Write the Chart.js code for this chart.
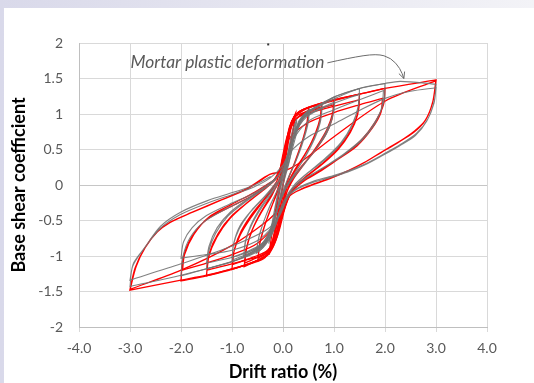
<!DOCTYPE html>
<html>
<head>
<meta charset="utf-8">
<script src="https://cdn.jsdelivr.net/npm/chart.js@4.4.1/dist/chart.umd.min.js"></script>
<style>
  html, body { margin: 0; padding: 0; }
  body { width: 534px; height: 383px; overflow: hidden; position: relative;
         background: linear-gradient(to right, #d9d9ea, #f3f3f7); }
  #panel { position: absolute; left: 4px; top: 8px; width: 530px; height: 375px; background: #fff; }
</style>
</head>
<body>
<div id="panel"><canvas id="chart" width="530" height="375"></canvas></div>
<script>
const xMin = -4, xMax = 4, xStep = 1;
const yMin = -2, yMax = 2, yStep = 0.5;
const xTitle = 'Drift ratio (%)';
const yTitle = 'Base shear coefficient';
const noteText = 'Mortar plastic deformation';

// gray specimen, one array per drift amplitude: [drift %, base shear coeff]
const grayLoop025 = [[-0.05,0.05],[0.08,0.4],[0.18,0.75],[0.27,0.93],[0.22,0.7],[0.14,0.42],[0.03,0.1],[-0.1,-0.28],[-0.2,-0.6],[-0.28,-0.83],[-0.23,-0.6],[-0.15,-0.32],[-0.04,-0.02],[0.09,0.35],[0.19,0.7],[0.27,0.9],[0.21,0.65],[0.12,0.32],[0.0,0.0],[-0.13,-0.4],[-0.22,-0.68],[-0.28,-0.82],[-0.21,-0.52],[-0.12,-0.18],[0.0,0.15]];
const grayLoop05 = [[0.02,0.15],[0.17,0.55],[0.3,0.86],[0.4,0.98],[0.52,1.07],[0.48,0.86],[0.38,0.6],[0.25,0.34],[0.1,0.1],[-0.05,-0.18],[-0.19,-0.52],[-0.32,-0.8],[-0.42,-0.9],[-0.52,-0.96],[-0.48,-0.76],[-0.38,-0.52],[-0.25,-0.28],[-0.1,-0.06],[0.04,0.15],[0.18,0.5],[0.31,0.82],[0.42,0.95],[0.52,1.03],[0.48,0.83],[0.37,0.56],[0.22,0.28],[0.08,0.06],[-0.06,-0.22],[-0.2,-0.55],[-0.34,-0.82],[-0.52,-0.93],[-0.47,-0.72],[-0.36,-0.48],[-0.22,-0.24],[-0.06,0.0]];
const grayLoop075 = [[0.03,0.2],[0.17,0.6],[0.31,0.9],[0.45,1.02],[0.77,1.15],[0.74,0.94],[0.64,0.7],[0.48,0.46],[0.3,0.24],[0.12,0.04],[-0.05,-0.22],[-0.21,-0.58],[-0.36,-0.82],[-0.54,-0.93],[-0.77,-1.01],[-0.74,-0.8],[-0.64,-0.58],[-0.48,-0.36],[-0.29,-0.16],[-0.08,0.04],[0.07,0.3],[0.21,0.66],[0.36,0.92],[0.54,1.01],[0.77,1.1],[0.73,0.88],[0.62,0.65],[0.44,0.4],[0.24,0.18],[0.06,-0.02],[-0.11,-0.32],[-0.27,-0.66],[-0.45,-0.85],[-0.77,-0.98],[-0.72,-0.76],[-0.6,-0.54],[-0.42,-0.32],[-0.22,-0.12],[-0.04,0.08]];
const grayLoop10 = [[0.03,0.2],[0.18,0.6],[0.34,0.92],[0.55,1.06],[1.02,1.24],[0.99,1.02],[0.88,0.8],[0.69,0.56],[0.45,0.32],[0.2,0.1],[0.0,-0.12],[-0.16,-0.45],[-0.32,-0.76],[-0.55,-0.92],[-1.0,-1.06],[-0.97,-0.84],[-0.86,-0.62],[-0.66,-0.4],[-0.4,-0.2],[-0.14,0.0],[0.05,0.28],[0.2,0.64],[0.38,0.92],[0.65,1.05],[1.01,1.17],[0.97,0.95],[0.85,0.72],[0.62,0.48],[0.37,0.26],[0.14,0.06],[-0.04,-0.2],[-0.2,-0.55],[-0.38,-0.8],[-0.65,-0.92],[-1.0,-1.02],[-0.96,-0.8],[-0.84,-0.57],[-0.62,-0.36],[-0.36,-0.16],[-0.12,0.04]];
const grayLoop15 = [[0.03,0.2],[0.19,0.62],[0.36,0.93],[0.65,1.1],[1.0,1.24],[1.5,1.36],[1.48,1.12],[1.36,0.86],[1.14,0.6],[0.82,0.37],[0.48,0.17],[0.22,0.0],[0.02,-0.22],[-0.16,-0.55],[-0.36,-0.82],[-0.65,-0.96],[-1.0,-1.08],[-1.5,-1.18],[-1.46,-0.94],[-1.32,-0.68],[-1.08,-0.44],[-0.74,-0.24],[-0.38,-0.06],[-0.12,0.1],[0.06,0.36],[0.22,0.7],[0.45,0.95],[0.9,1.12],[1.5,1.28],[1.46,1.05],[1.33,0.8],[1.1,0.55],[0.78,0.33],[0.44,0.14],[0.18,-0.04],[-0.03,-0.3],[-0.2,-0.64],[-0.45,-0.86],[-0.9,-1.0],[-1.5,-1.1],[-1.45,-0.86],[-1.29,-0.6],[-1.03,-0.38],[-0.68,-0.19],[-0.32,-0.02],[-0.08,0.14]];
const grayLoop20 = [[0.03,0.2],[0.19,0.62],[0.38,0.94],[0.75,1.13],[1.0,1.24],[1.5,1.36],[2.0,1.43],[1.98,1.18],[1.84,0.93],[1.58,0.67],[1.2,0.44],[0.8,0.25],[0.42,0.08],[0.16,-0.08],[-0.02,-0.32],[-0.2,-0.66],[-0.42,-0.88],[-0.85,-1.04],[-1.5,-1.18],[-2.0,-1.28],[-1.96,-1.0],[-1.82,-0.74],[-1.55,-0.52],[-1.1,-0.33],[-0.62,-0.16],[-0.24,0.02],[0.02,0.25],[0.17,0.6],[0.5,0.9],[1.0,1.06],[1.5,1.2],[1.97,1.33],[1.94,1.1],[1.8,0.86],[1.52,0.61],[1.14,0.4],[0.74,0.22],[0.36,0.06],[0.12,-0.12],[-0.08,-0.45],[-0.45,-0.76],[-1.0,-0.92],[-1.5,-0.98],[-2.0,-1.03],[-1.95,-0.8],[-1.78,-0.6],[-1.5,-0.43],[-1.05,-0.27],[-0.58,-0.12],[-0.2,0.06]];
const grayLoop30 = [[0.03,0.22],[0.2,0.64],[0.4,0.96],[0.85,1.16],[1.5,1.36],[2.0,1.43],[2.3,1.46],[3.0,1.42],[2.97,1.2],[2.84,0.93],[2.62,0.73],[2.3,0.57],[1.96,0.43],[1.62,0.3],[1.28,0.2],[0.92,0.12],[0.58,0.05],[0.32,-0.03],[0.14,-0.12],[-0.04,-0.36],[-0.22,-0.7],[-0.45,-0.92],[-1.0,-1.08],[-2.0,-1.27],[-3.0,-1.43],[-2.95,-1.15],[-2.75,-0.92],[-2.42,-0.62],[-2.02,-0.42],[-1.5,-0.26],[-0.98,-0.13],[-0.58,-0.03],[-0.25,0.1],[0.0,0.28],[0.12,0.45],[0.5,0.68],[1.0,0.86],[1.5,1.05],[2.0,1.22],[2.5,1.32],[3.0,1.37],[2.96,1.15],[2.82,0.9],[2.6,0.7],[2.28,0.55],[1.94,0.41],[1.6,0.28],[1.26,0.18],[0.9,0.1],[0.56,0.03],[0.3,-0.05],[0.12,-0.15],[-0.06,-0.4],[-0.3,-0.62],[-1.0,-0.86],[-2.0,-1.11],[-3.0,-1.34],[-2.93,-1.1],[-2.71,-0.88],[-2.4,-0.58],[-2.0,-0.38],[-1.48,-0.22],[-0.96,-0.1],[-0.56,0.0],[-0.24,0.12]];

// red specimen
const redLoop025 = [[-0.06,0.0],[0.02,0.4],[0.12,0.8],[0.24,1.0],[0.19,0.75],[0.11,0.45],[0.02,0.1],[-0.08,-0.3],[-0.18,-0.7],[-0.27,-0.98],[-0.22,-0.7],[-0.14,-0.4],[-0.06,-0.05],[0.03,0.35],[0.13,0.75],[0.24,0.97],[0.19,0.72],[0.09,0.35],[-0.01,-0.05],[-0.11,-0.45],[-0.2,-0.8],[-0.27,-0.95],[-0.2,-0.6],[-0.11,-0.2],[-0.02,0.15]];
const redLoop05 = [[-0.02,0.15],[0.07,0.55],[0.17,0.88],[0.29,1.0],[0.4,1.05],[0.5,1.09],[0.47,0.88],[0.38,0.62],[0.25,0.35],[0.12,0.12],[0.0,-0.15],[-0.1,-0.5],[-0.2,-0.82],[-0.3,-0.98],[-0.4,-1.03],[-0.49,-1.07],[-0.46,-0.85],[-0.37,-0.6],[-0.25,-0.35],[-0.12,-0.12],[-0.02,0.12],[0.07,0.45],[0.18,0.85],[0.33,0.98],[0.5,1.05],[0.47,0.85],[0.36,0.58],[0.22,0.3],[0.1,0.08],[-0.02,-0.2],[-0.12,-0.55],[-0.24,-0.86],[-0.36,-0.98],[-0.49,-1.03],[-0.45,-0.8],[-0.35,-0.55],[-0.22,-0.3],[-0.1,-0.05],[-0.02,0.2]];
const redLoop075 = [[-0.02,0.2],[0.07,0.6],[0.17,0.9],[0.3,1.02],[0.5,1.09],[0.76,1.15],[0.73,0.95],[0.63,0.72],[0.47,0.48],[0.28,0.25],[0.12,0.05],[0.0,-0.25],[-0.12,-0.65],[-0.22,-0.88],[-0.32,-0.99],[-0.5,-1.06],[-0.76,-1.15],[-0.73,-0.93],[-0.63,-0.68],[-0.47,-0.43],[-0.28,-0.2],[-0.1,0.02],[-0.01,0.3],[0.09,0.7],[0.22,0.95],[0.45,1.03],[0.75,1.1],[0.72,0.9],[0.6,0.66],[0.42,0.42],[0.22,0.2],[0.08,0.0],[-0.04,-0.35],[-0.16,-0.75],[-0.3,-0.95],[-0.5,-1.02],[-0.75,-1.1],[-0.71,-0.88],[-0.6,-0.63],[-0.42,-0.38],[-0.22,-0.15],[-0.06,0.1]];
const redLoop10 = [[-0.02,0.2],[0.07,0.6],[0.19,0.92],[0.33,1.04],[0.6,1.11],[1.0,1.2],[0.97,1.0],[0.86,0.78],[0.67,0.55],[0.42,0.3],[0.2,0.08],[0.05,-0.15],[-0.08,-0.55],[-0.2,-0.85],[-0.33,-1.0],[-0.6,-1.09],[-1.0,-1.19],[-0.97,-0.96],[-0.85,-0.72],[-0.64,-0.47],[-0.38,-0.22],[-0.15,0.0],[-0.03,0.3],[0.07,0.62],[0.22,0.9],[0.5,1.03],[0.99,1.13],[0.96,0.93],[0.83,0.7],[0.6,0.46],[0.35,0.25],[0.15,0.05],[0.02,-0.25],[-0.12,-0.68],[-0.3,-0.92],[-0.6,-1.02],[-0.99,-1.12],[-0.95,-0.9],[-0.82,-0.65],[-0.6,-0.4],[-0.35,-0.18],[-0.12,0.05]];
const redLoop15 = [[-0.02,0.2],[0.07,0.6],[0.19,0.92],[0.36,1.05],[0.75,1.14],[1.0,1.19],[1.5,1.28],[1.48,1.05],[1.35,0.8],[1.12,0.55],[0.8,0.32],[0.45,0.12],[0.2,-0.05],[0.05,-0.3],[-0.1,-0.7],[-0.25,-0.93],[-0.45,-1.04],[-0.75,-1.13],[-1.0,-1.18],[-1.5,-1.28],[-1.46,-1.02],[-1.3,-0.74],[-1.05,-0.48],[-0.7,-0.25],[-0.35,-0.05],[-0.1,0.12],[-0.01,0.4],[0.09,0.7],[0.28,0.95],[0.75,1.06],[1.49,1.2],[1.46,0.98],[1.32,0.74],[1.08,0.5],[0.75,0.28],[0.4,0.08],[0.15,-0.1],[-0.02,-0.4],[-0.18,-0.8],[-0.4,-0.98],[-0.75,-1.06],[-1.49,-1.2],[-1.44,-0.95],[-1.27,-0.68],[-1.0,-0.43],[-0.65,-0.22],[-0.3,-0.02],[-0.08,0.15]];
const redLoop20 = [[-0.02,0.2],[0.07,0.6],[0.19,0.92],[0.38,1.06],[1.0,1.2],[1.5,1.28],[2.0,1.36],[1.97,1.13],[1.8,0.88],[1.52,0.62],[1.15,0.4],[0.75,0.2],[0.4,0.05],[0.15,-0.12],[0.0,-0.4],[-0.15,-0.8],[-0.32,-1.0],[-1.0,-1.19],[-1.5,-1.28],[-2.0,-1.35],[-1.96,-1.03],[-1.79,-0.73],[-1.5,-0.49],[-1.04,-0.31],[-0.58,-0.14],[-0.2,0.05],[-0.02,0.3],[0.12,0.65],[0.5,0.88],[1.0,1.02],[1.5,1.13],[1.95,1.22],[1.92,1.02],[1.75,0.8],[1.45,0.55],[1.05,0.35],[0.65,0.17],[0.3,0.02],[0.1,-0.15],[-0.1,-0.5],[-0.5,-0.82],[-1.0,-0.98],[-1.5,-1.1],[-1.97,-1.2],[-1.93,-0.98],[-1.75,-0.7],[-1.45,-0.45],[-1.0,-0.27],[-0.55,-0.1],[-0.15,0.08]];
const redLoop30 = [[-0.02,0.2],[0.07,0.6],[0.19,0.92],[0.43,1.07],[1.0,1.2],[1.5,1.28],[2.0,1.36],[3.0,1.48],[2.93,1.15],[2.78,0.9],[2.56,0.74],[2.23,0.59],[1.9,0.45],[1.58,0.31],[1.25,0.19],[0.92,0.09],[0.6,0.01],[0.3,-0.08],[0.12,-0.16],[0.0,-0.4],[-0.15,-0.78],[-0.35,-1.02],[-0.6,-1.1],[-1.0,-1.18],[-1.5,-1.27],[-2.0,-1.34],[-3.0,-1.48],[-2.88,-1.15],[-2.7,-0.88],[-2.45,-0.65],[-2.2,-0.52],[-1.76,-0.38],[-1.24,-0.22],[-0.71,-0.05],[-0.26,0.15],[0.0,0.19],[0.3,0.3],[1.0,0.68],[2.0,1.18],[3.0,1.47],[2.94,1.18],[2.8,0.92],[2.58,0.76],[2.26,0.6],[1.93,0.46],[1.6,0.32],[1.27,0.2],[0.94,0.1],[0.62,0.02],[0.32,-0.07],[0.14,-0.15],[-0.02,-0.3],[-0.3,-0.5],[-1.0,-0.85],[-2.0,-1.2],[-3.0,-1.47],[-2.9,-1.17],[-2.72,-0.9],[-2.48,-0.67],[-2.22,-0.53],[-1.8,-0.39],[-1.28,-0.23],[-0.74,-0.07],[-0.3,0.13]];

const grayLoops = [grayLoop025, grayLoop05, grayLoop075, grayLoop10, grayLoop15, grayLoop20, grayLoop30];
const redLoops = [redLoop025, redLoop05, redLoop075, redLoop10, redLoop15, redLoop20, redLoop30];

// annotation anchors in data units
const notePos = [-2.99, 1.72];
const noteWidth = 194;
const arrowPath = [[0.87,1.72],[1.3,1.79],[1.84,1.85],[2.12,1.79],[2.3,1.64],[2.37,1.5]];
const dotPos = [-0.29, 1.98];

const grayColor = 'rgba(115,115,115,0.9)';
const redColor = '#ff0000';

// repeat the point where drift reverses so the spline keeps a sharp peak
function withCorners(loop) {
  const out = [];
  loop.forEach((p, i) => {
    out.push({ x: p[0], y: p[1] });
    if (i > 0 && i < loop.length - 1) {
      const d1 = p[0] - loop[i - 1][0];
      const d2 = loop[i + 1][0] - p[0];
      if (d1 * d2 < 0) out.push({ x: p[0], y: p[1] });
    }
  });
  return out;
}

function makeSet(loop, color, width) {
  return {
    data: withCorners(loop),
    borderColor: color,
    borderWidth: width,
    showLine: true,
    pointRadius: 0,
    tension: 0.3,
    fill: false
  };
}

const notePlugin = {
  id: 'note',
  afterDatasetsDraw(chart) {
    const { ctx, scales: { x, y } } = chart;
    ctx.save();
    ctx.fillStyle = '#595959';
    ctx.font = 'italic 15px Lato';
    const size = 15 * noteWidth / ctx.measureText(noteText).width;
    ctx.font = 'italic ' + size.toFixed(1) + 'px Lato';
    ctx.textBaseline = 'middle';
    ctx.fillText(noteText, x.getPixelForValue(notePos[0]), y.getPixelForValue(notePos[1]));

    const pts = arrowPath.map(p => [x.getPixelForValue(p[0]), y.getPixelForValue(p[1])]);
    ctx.strokeStyle = '#6b6b6b';
    ctx.lineWidth = 1;
    ctx.beginPath();
    ctx.moveTo(pts[0][0], pts[0][1]);
    for (let i = 1; i < pts.length - 1; i++) {
      const mx = (pts[i][0] + pts[i + 1][0]) / 2;
      const my = (pts[i][1] + pts[i + 1][1]) / 2;
      ctx.quadraticCurveTo(pts[i][0], pts[i][1], mx, my);
    }
    const last = pts[pts.length - 1];
    ctx.lineTo(last[0], last[1]);
    ctx.stroke();

    const prev = pts[pts.length - 2];
    const a = Math.atan2(last[1] - prev[1], last[0] - prev[0]);
    ctx.beginPath();
    ctx.moveTo(last[0] - 7 * Math.cos(a - 0.45), last[1] - 7 * Math.sin(a - 0.45));
    ctx.lineTo(last[0], last[1]);
    ctx.lineTo(last[0] - 7 * Math.cos(a + 0.45), last[1] - 7 * Math.sin(a + 0.45));
    ctx.stroke();

    ctx.fillStyle = '#333';
    ctx.fillRect(x.getPixelForValue(dotPos[0]) - 1, y.getPixelForValue(dotPos[1]) - 1, 2, 2);
    ctx.restore();
  }
};

const tickFont = { family: 'Lato', size: 14 };
const titleFont = { family: 'Lato', size: 18, weight: 'bold' };

new Chart(document.getElementById('chart'), {
  type: 'scatter',
  data: {
    datasets: [
      ...grayLoops.map(l => makeSet(l, grayColor, 1.1)),
      ...redLoops.map(l => makeSet(l, redColor, 1.3))
    ]
  },
  options: {
    responsive: false,
    animation: false,
    devicePixelRatio: 1,
    layout: { padding: { top: 35, right: 47, left: 0, bottom: 0 } },
    plugins: { legend: { display: false }, tooltip: { enabled: false } },
    scales: {
      x: {
        type: 'linear', min: xMin, max: xMax,
        ticks: { stepSize: xStep, callback: v => v.toFixed(1), color: '#595959', font: tickFont, padding: 8, maxRotation: 0 },
        grid: { color: c => c.tick && c.tick.value === 0 ? '#cccccc' : '#d9d9d9', tickLength: 5 },
        border: { color: '#bfbfbf' },
        title: { display: true, text: xTitle, color: '#000', font: titleFont, padding: { top: 0, bottom: 0 } },
        afterFit: s => { s.height = 56; }
      },
      y: {
        type: 'linear', min: yMin, max: yMax,
        ticks: { stepSize: yStep, callback: v => String(v), color: '#595959', font: tickFont, padding: 16 },
        grid: { color: c => c.tick && c.tick.value === 0 ? '#c6c6c6' : '#d9d9d9', drawTicks: false },
        border: { color: '#bfbfbf' },
        title: { display: true, text: yTitle, color: '#000', font: titleFont, padding: { top: 4, bottom: 0 } },
        afterFit: s => { s.width = 75; }
      }
    }
  },
  plugins: [notePlugin]
});
</script>
</body>
</html>
